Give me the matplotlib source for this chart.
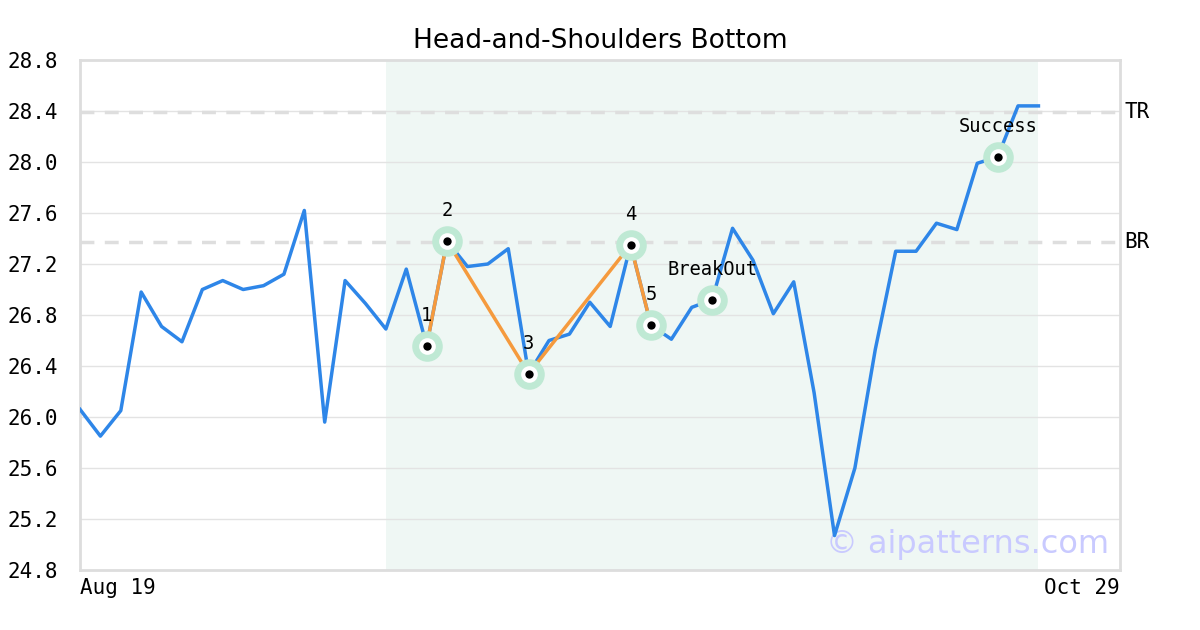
import matplotlib.pyplot as plt

# closing prices, one per trading day from Aug 19
prices = [26.06, 25.85, 26.05, 26.98, 26.71, 26.59, 27.00, 27.07, 27.00, 27.03,
          27.12, 27.62, 25.96, 27.07, 26.89, 26.69, 27.16, 26.56, 27.38, 27.18,
          27.20, 27.32, 26.34, 26.60, 26.65, 26.90, 26.71, 27.35, 26.72, 26.61,
          26.86, 26.92, 27.48, 27.23, 26.81, 27.06, 26.19, 25.07, 25.60, 26.53,
          27.30, 27.30, 27.52, 27.47, 27.99, 28.04, 28.44, 28.44]

pattern_idx = [17, 18, 22, 27, 28]
pattern_labels = ['1', '2', '3', '4', '5']
breakout_idx = 31
success_idx = 45
zone_start, zone_end = 15, 47

tr_level = 28.39
br_level = 27.37

x_tick_pos = [0, 51]
x_tick_labels = ['Aug 19', 'Oct 29']
y_ticks = [24.8, 25.2, 25.6, 26.0, 26.4, 26.8, 27.2, 27.6, 28.0, 28.4, 28.8]

mono = 'DejaVu Sans Mono'

fig = plt.figure(figsize=(12, 6.3), dpi=100)
ax = fig.add_axes([80/1200, 60/630, 1040/1200, 510/630])

x = list(range(len(prices)))

ax.axvspan(zone_start, zone_end, color='#eff7f4', zorder=0, lw=0)
for yt in y_ticks:
    ax.axhline(yt, color='#e3e3e3', lw=1, zorder=1)
ax.axhline(tr_level, color='#dedede', lw=2.5, ls=(0, (4, 3)), zorder=1)
ax.axhline(br_level, color='#dedede', lw=2.5, ls=(0, (4, 3)), zorder=1)

ax.plot(x, prices, color='#2e86e8', lw=2.5, zorder=3)
ax.plot(pattern_idx, [prices[i] for i in pattern_idx], color='#f59a3d', lw=2.5, zorder=4)

marks = pattern_idx + [breakout_idx, success_idx]
mx = marks
my = [prices[i] for i in marks]
ax.plot(mx, my, 'o', ms=22, color='#bfe9d4', mew=0, zorder=5)
ax.plot(mx, my, 'o', ms=12, color='white', mew=0, zorder=6)
ax.plot(mx, my, 'o', ms=6, color='black', mew=0, zorder=7)

for i, lab in zip(pattern_idx, pattern_labels):
    ax.annotate(lab, (i, prices[i]), xytext=(0, 22), textcoords='offset points',
                ha='center', va='center', fontsize=13.5, family=mono, zorder=8)
ax.annotate('BreakOut', (breakout_idx, prices[breakout_idx]), xytext=(0, 22),
            textcoords='offset points', ha='center', va='center', fontsize=13.5,
            family=mono, zorder=8)
ax.annotate('Success', (success_idx, prices[success_idx]), xytext=(0, 22),
            textcoords='offset points', ha='center', va='center', fontsize=13.5,
            family=mono, zorder=8)

ax.text(1.004, tr_level, 'TR', transform=ax.get_yaxis_transform(), va='center',
        ha='left', fontsize=15, family=mono)
ax.text(1.004, br_level, 'BR', transform=ax.get_yaxis_transform(), va='center',
        ha='left', fontsize=15, family=mono)

ax.text(0.99, 0.05, '\u00a9 aipatterns.com', transform=ax.transAxes, ha='right',
        va='center', fontsize=23, color='#c9caff', zorder=2)

ax.set_xlim(0, 51)
ax.set_ylim(24.8, 28.8)
ax.set_yticks(y_ticks)
ax.set_yticklabels([f'{v:.1f}' for v in y_ticks], family=mono, fontsize=15)
ax.set_xticks(x_tick_pos)
ax.set_xticklabels(x_tick_labels, family=mono, fontsize=15)
for lab, ha in zip(ax.get_xticklabels(), ['left', 'right']):
    lab.set_ha(ha)
ax.tick_params(length=0, pad=6)
ax.tick_params(axis='y', pad=16)
for s in ax.spines.values():
    s.set_color('#dddddd')
    s.set_linewidth(2)

ax.set_title('Head-and-Shoulders Bottom', fontsize=19, pad=9)

fig.savefig('out.png', dpi=100)
